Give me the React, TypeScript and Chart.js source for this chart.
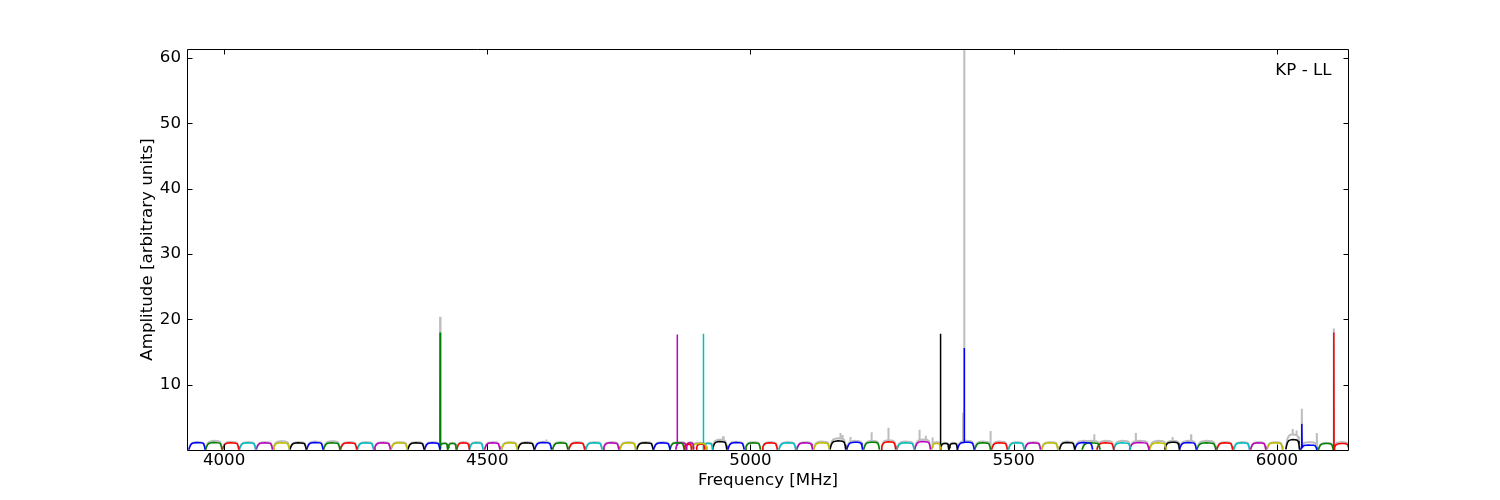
import React, { useEffect, useRef } from 'react';
import { Chart, registerables } from 'chart.js';
Chart.register(...registerables);

const X_MIN = 3929.5;
const X_MAX = 6137;
const Y_MIN = 0;
const Y_MAX = 61.4;
const X_TICKS = [4000, 4500, 5000, 5500, 6000];
const Y_TICKS = [10, 20, 30, 40, 50, 60];
const X_TITLE = 'Frequency [MHz]';
const Y_TITLE = 'Amplitude [arbitrary units]';
const PANEL_LABEL = 'KP - LL';

const PALETTE = ['#0000ff', '#008000', '#ff0000', '#00bfbf', '#bf00bf', '#bfbf00', '#000000'];
const GREY = '#bdbdbd';

// bandpass template read from the channels: fraction across channel, fraction of channel level
const SHAPE_POS = [0, 0.05, 0.12, 0.22, 0.35, 0.5, 0.65, 0.8, 0.9, 0.96, 1];
const SHAPE_REL = [0.05, 0.4, 0.72, 0.9, 0.97, 1.0, 0.98, 0.95, 0.85, 0.5, 0.05];

// channels (MHz)
const CH_START = [
  3933, 3965, 3997, 4029, 4061, 4093, 4125, 4157, 4189, 4221, 4253, 4285, 4317, 4349, 4381,
  4410, 4425, 4442, 4466, 4495, 4527, 4558, 4590, 4624, 4655, 4687, 4720, 4752, 4784, 4816,
  4847, 4858, 4874, 4878, 4888, 4897, 4910, 4928, 4957, 4990, 5022, 5054, 5088, 5120, 5151,
  5183, 5215, 5248, 5278, 5312, 5344, 5361, 5377, 5393, 5426, 5458, 5490, 5521, 5553, 5587,
  5616, 5630, 5658, 5690, 5720, 5758, 5787, 5815, 5848, 5886, 5918, 5950, 5981, 6017, 6045,
  6079, 6108,
];
const CH_END = [
  3964, 3996, 4028, 4060, 4092, 4124, 4156, 4188, 4220, 4252, 4284, 4316, 4348, 4380, 4410,
  4425, 4441, 4466, 4492, 4524, 4557, 4589, 4622, 4653, 4685, 4718, 4750, 4782, 4815, 4847,
  4874, 4878, 4888, 4892, 4917, 4913, 4928, 4955, 4988, 5019, 5051, 5086, 5118, 5150, 5181,
  5213, 5245, 5276, 5311, 5342, 5361, 5377, 5393, 5425, 5456, 5488, 5520, 5551, 5584, 5616,
  5650, 5664, 5690, 5722, 5757, 5790, 5815, 5847, 5884, 5916, 5948, 5979, 6011, 6043, 6076,
  6107, 6137,
];
const CH_COLOR = [
  0, 1, 2, 3, 4, 5, 6, 0, 1, 2, 3, 4, 5, 6, 0,
  1, 1, 2, 3, 4, 5, 6, 0, 1, 2, 3, 4, 5, 6, 0,
  1, 4, 2, 4, 5, 2, 3, 6, 0, 1, 2, 3, 4, 5, 6,
  0, 1, 2, 3, 4, 5, 6, 6, 0, 1, 2, 3, 4, 5, 6,
  0, 1, 2, 3, 4, 5, 6, 0, 1, 2, 3, 4, 5, 6, 0,
  1, 2,
];
const CH_LEVEL = [
  1.15, 1.15, 1.1, 1.1, 1.1, 1.1, 1.1, 1.15, 1.1, 1.1, 1.1, 1.1, 1.1, 1.1, 1.1,
  1.0, 1.0, 1.1, 1.1, 1.1, 1.1, 1.1, 1.15, 1.1, 1.1, 1.1, 1.1, 1.1, 1.1, 1.1,
  1.1, 1.1, 0.9, 1.1, 1.0, 0.9, 1.0, 1.3, 1.15, 1.1, 1.1, 1.1, 1.1, 1.1, 1.4,
  1.2, 1.2, 1.25, 1.1, 1.3, 1.0, 1.0, 1.0, 1.2, 1.1, 1.1, 1.1, 1.1, 1.1, 1.15,
  1.15, 1.1, 1.1, 1.1, 1.15, 1.1, 1.2, 1.15, 1.1, 1.1, 1.1, 1.1, 1.1, 1.6, 0.75,
  1.0, 1.0,
];
const CH_GREY = [
  1.2, 1.4, 1.25, 1.2, 1.2, 1.35, 1.2, 1.3, 1.35, 1.2, 1.2, 1.2, 1.2, 1.2, 1.2,
  1.1, 1.1, 1.2, 1.2, 1.2, 1.2, 1.2, 1.25, 1.2, 1.2, 1.2, 1.2, 1.2, 1.2, 1.2,
  1.2, 1.2, 1.0, 1.2, 1.1, 1.0, 1.1, 1.6, 1.25, 1.2, 1.2, 1.2, 1.2, 1.3, 1.8,
  1.4, 1.4, 1.5, 1.3, 1.6, 1.2, 1.1, 1.1, 1.4, 1.3, 1.3, 1.2, 1.2, 1.2, 1.3,
  1.4, 1.4, 1.4, 1.4, 1.4, 1.4, 1.4, 1.4, 1.4, 1.2, 1.2, 1.2, 1.2, 2.4, 1.2,
  1.1, 1.2,
];

// narrow spectral spikes in the coloured series (channel index, MHz, amplitude)
const SPIKE_CH = [15, 31, 36, 51, 53, 74, 76];
const SPIKE_FREQ = [4410.3, 4861, 4910.6, 5360.6, 5406, 6047.5, 6108.2];
const SPIKE_AMP = [18.0, 17.7, 17.8, 17.8, 15.6, 4.0, 18.0];
// spikes in the grey (max-hold) series
const GREY_SPIKE_FREQ = [
  4410.3, 4612, 4948, 5171, 5175, 5190, 5230, 5262, 5321, 5333, 5346, 5404, 5406, 5456,
  5653, 5732, 5802, 5837, 6030, 6037, 6047.5, 6076, 6108.2,
];
const GREY_SPIKE_AMP = [
  20.4, 1.6, 2.1, 2.6, 2.3, 2.0, 2.7, 3.4, 3.1, 2.2, 1.9, 5.7, 64, 2.9,
  2.4, 2.6, 2.0, 2.4, 3.2, 3.0, 6.3, 2.6, 18.6,
];

type P = { x: number; y: number };

function channelPoints(i: number, level: number): P[] {
  const s = CH_START[i];
  const e = CH_END[i];
  return SHAPE_POS.map((p, k) => ({ x: s + p * (e - s), y: SHAPE_REL[k] * level }));
}

function interp(pts: P[], f: number): number {
  if (f <= pts[0].x) return pts[0].y;
  for (let k = 0; k < pts.length - 1; k++) {
    if (f >= pts[k].x && f <= pts[k + 1].x) {
      const t = (f - pts[k].x) / (pts[k + 1].x - pts[k].x || 1);
      return pts[k].y + t * (pts[k + 1].y - pts[k].y);
    }
  }
  return pts[pts.length - 1].y;
}

function findChannel(f: number): number {
  for (let i = 0; i < CH_START.length; i++) {
    if (f >= CH_START[i] - 0.5 && f <= CH_END[i]) return i;
  }
  return -1;
}

function addSpikes(pts: P[], freqs: number[], amps: number[], chans: number[], i: number): P[] {
  const out = pts.slice();
  freqs.forEach((f, k) => {
    if (chans[k] !== i) return;
    const b = interp(pts, f);
    out.push({ x: f - 0.4, y: b }, { x: f, y: amps[k] }, { x: f + 0.4, y: b });
  });
  return out.sort((a, b) => a.x - b.x);
}

const framePlugin = {
  id: 'frame',
  afterDraw(chart: any) {
    const { ctx, chartArea: a, scales } = chart;
    const xs = scales.x;
    const ys = scales.y;
    const L = 5.5;
    ctx.save();
    ctx.strokeStyle = '#000';
    ctx.lineWidth = 1;
    ctx.beginPath();
    ctx.rect(Math.round(a.left) + 0.5, Math.round(a.top) + 0.5, Math.round(a.right - a.left) - 1, Math.round(a.bottom - a.top));
    ctx.stroke();
    ctx.beginPath();
    X_TICKS.forEach((v) => {
      const px = Math.round(xs.getPixelForValue(v)) + 0.5;
      ctx.moveTo(px, a.bottom);
      ctx.lineTo(px, a.bottom - L);
      ctx.moveTo(px, a.top);
      ctx.lineTo(px, a.top + L);
    });
    Y_TICKS.forEach((v) => {
      const py = Math.round(ys.getPixelForValue(v)) + 0.5;
      ctx.moveTo(a.left, py);
      ctx.lineTo(a.left + L, py);
      ctx.moveTo(a.right, py);
      ctx.lineTo(a.right - L, py);
    });
    ctx.stroke();
    ctx.fillStyle = '#000';
    ctx.font = '16.67px "DejaVu Sans"';
    ctx.textAlign = 'right';
    ctx.textBaseline = 'alphabetic';
    ctx.fillText(PANEL_LABEL, a.right - 17.5, a.top + 26);
    ctx.restore();
  },
};

export default function App() {
  const ref = useRef<HTMLCanvasElement>(null);
  useEffect(() => {
    if (!ref.current) return;
    const greyChans = GREY_SPIKE_FREQ.map((f) => findChannel(f));
    const datasets: any[] = [];
    CH_START.forEach((_, i) => {
      const col = PALETTE[CH_COLOR[i]];
      const main = addSpikes(channelPoints(i, CH_LEVEL[i]), SPIKE_FREQ, SPIKE_AMP, SPIKE_CH, i);
      datasets.push({
        data: main,
        borderColor: col,
        backgroundColor: col,
        borderWidth: 1.5,
        pointRadius: 0,
        tension: 0,
        order: 0,
      });
    });
    CH_START.forEach((_, i) => {
      const grey = addSpikes(channelPoints(i, CH_GREY[i]), GREY_SPIKE_FREQ, GREY_SPIKE_AMP, greyChans, i);
      datasets.push({
        data: grey,
        borderColor: GREY,
        backgroundColor: GREY,
        borderWidth: 2,
        pointRadius: 0,
        tension: 0,
        order: 1,
      });
    });
    const font = { family: '"DejaVu Sans"', size: 16.67 };
    const chart = new Chart(ref.current, {
      type: 'line',
      data: { datasets },
      plugins: [framePlugin],
      options: {
        animation: false,
        responsive: false,
        maintainAspectRatio: false,
        parsing: false,
        normalized: true,
        layout: { padding: { left: 0, right: 151, top: 49, bottom: 0 } },
        plugins: { legend: { display: false }, tooltip: { enabled: false }, title: { display: false } },
        events: [],
        scales: {
          x: {
            type: 'linear',
            min: X_MIN,
            max: X_MAX,
            afterFit: (s: any) => { s.height = 50; },
            afterBuildTicks: (s: any) => { s.ticks = X_TICKS.map((v) => ({ value: v })); },
            ticks: { color: '#000', font, padding: 1, maxRotation: 0, autoSkip: false, callback: (v: any) => String(v) },
            grid: { display: false, drawTicks: false },
            border: { display: false },
            title: { display: true, text: X_TITLE, color: '#000', font, padding: { top: 0, bottom: 9 } },
          },
          y: {
            type: 'linear',
            min: Y_MIN,
            max: Y_MAX,
            afterFit: (s: any) => { s.width = 187; },
            afterBuildTicks: (s: any) => { s.ticks = Y_TICKS.map((v) => ({ value: v })); },
            ticks: { color: '#000', font, padding: 6, autoSkip: false, callback: (v: any) => String(v) },
            grid: { display: false, drawTicks: false },
            border: { display: false },
            title: { display: true, text: Y_TITLE, color: '#000', font, padding: { top: 138, bottom: 0 } },
          },
        },
      },
    });
    return () => chart.destroy();
  }, []);
  return (
    <div style={{ position: 'fixed', left: 0, top: 0, width: 1500, height: 500, background: '#fff' }}>
      <canvas ref={ref} width={1500} height={500} style={{ width: 1500, height: 500, display: 'block' }} />
    </div>
  );
}
